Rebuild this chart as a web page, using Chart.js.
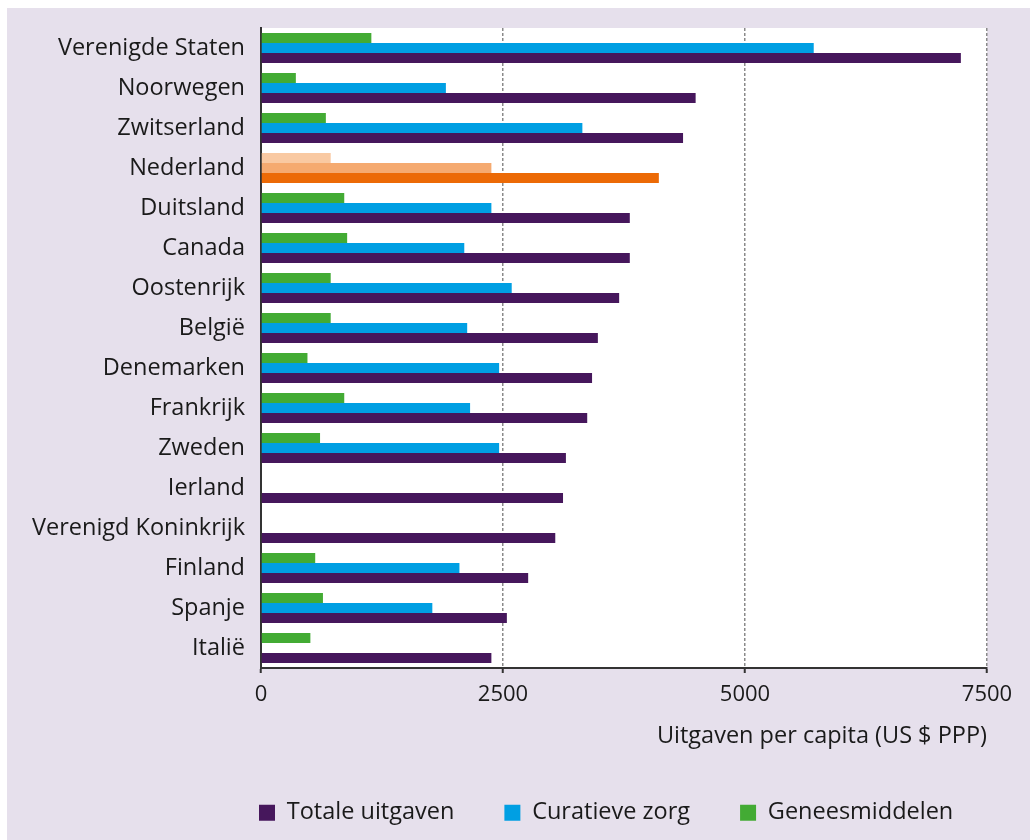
<!DOCTYPE html>
<html>
<head>
<meta charset="utf-8">
<script src="https://cdn.jsdelivr.net/npm/chart.js@4.4.1/dist/chart.umd.min.js"></script>
<style>
  html, body { margin: 0; padding: 0; background: #ffffff; }
  #wrap { position: absolute; left: 7px; top: 8px; width: 1023px; height: 832px; background: #e6e0ec; }
  canvas { display: block; }
</style>
</head>
<body>
<div id="wrap"><canvas id="c" width="1023" height="832"></canvas></div>
<script>
const categories = ['Verenigde Staten', 'Noorwegen', 'Zwitserland', 'Nederland', 'Duitsland', 'Canada', 'Oostenrijk', 'België', 'Denemarken', 'Frankrijk', 'Zweden', 'Ierland', 'Verenigd Koninkrijk', 'Finland', 'Spanje', 'Italië'];
const totaleUitgaven = [7230, 4490, 4360, 4110, 3810, 3810, 3700, 3480, 3420, 3370, 3150, 3120, 3040, 2760, 2540, 2380];
const curatieveZorg  = [5710, 1910, 3320, 2380, 2380, 2100, 2590, 2130, 2460, 2160, 2460, null, null, 2050, 1770, null];
const geneesmiddelen = [1140, 360, 670, 720, 860, 890, 720, 720, 480, 860, 610, null, null, 560, 640, 510];
const seriesNames = ['Totale uitgaven', 'Curatieve zorg', 'Geneesmiddelen'];
const xTicks = [0, 2500, 5000, 7500];
const highlight = 'Nederland';

const FONT = 'Open Sans';
const TEXT = '#1a1a1a';
const colorsFor = (base, hl) => categories.map(c => c === highlight ? hl : base);

const bgPlugin = {
  id: 'areaBg',
  beforeDraw(chart) {
    const { ctx, chartArea: a } = chart;
    ctx.save();
    ctx.fillStyle = '#ffffff';
    ctx.fillRect(a.left, a.top, a.right - a.left, a.bottom - a.top);
    ctx.restore();
  },
  afterLayout(chart) {
    const lg = chart.legend;
    if (!lg) return;
    const pad = lg.options.labels.padding;
    lg.left = 252 - pad;
    lg.right = 3000;
    lg.top = 743;
    lg.bottom = chart.height;
  }
};

new Chart(document.getElementById('c'), {
  type: 'bar',
  data: {
    labels: categories,
    datasets: [
      { label: seriesNames[2], data: geneesmiddelen, backgroundColor: colorsFor('#43ab34', '#f9c9a2') },
      { label: seriesNames[1], data: curatieveZorg, backgroundColor: colorsFor('#009fe3', '#f5aa70') },
      { label: seriesNames[0], data: totaleUitgaven, backgroundColor: colorsFor('#46175c', '#ec6a06') }
    ]
  },
  options: {
    indexAxis: 'y',
    responsive: false,
    animation: false,
    categoryPercentage: 0.75,
    barPercentage: 1.0,
    layout: { padding: { top: 20, right: 43, bottom: 8, left: 0 } },
    plugins: {
      tooltip: { enabled: false },
      legend: {
        position: 'bottom',
        align: 'start',
        reverse: true,
        maxHeight: 42,
        labels: {
          boxWidth: 16, boxHeight: 16, padding: 50,
          color: TEXT,
          font: { family: FONT, size: 23.5 }
        }
      }
    },
    scales: {
      x: {
        min: 0, max: 7500,
        afterBuildTicks: (axis) => { axis.ticks = xTicks.map(v => ({ value: v })); },
        afterFit: (axis) => { axis.height = 122; axis.paddingLeft = 0; axis.paddingRight = 0; },
        grid: {
          color: (ctx) => (ctx.tick && ctx.tick.value === 0) ? 'rgba(0,0,0,0)' : '#8a8a8a',
          lineWidth: 1.5,
          drawTicks: true,
          tickLength: 5,
          tickColor: '#333333',
          tickWidth: 2,
          tickBorderDash: []
        },
        border: { display: true, color: '#333333', width: 2, dash: [3, 2] },
        ticks: { color: TEXT, font: { family: FONT, size: 22 }, padding: 9, maxRotation: 0, callback: (v) => String(v) },
        title: {
          display: true,
          text: 'Uitgaven per capita (US $ PPP)',
          align: 'end',
          color: TEXT,
          font: { family: FONT, size: 23.5 },
          padding: { top: 0, bottom: 40 }
        }
      },
      y: {
        afterFit: (axis) => { axis.width = 254; axis.paddingTop = 0; axis.paddingBottom = 0; },
        grid: { display: false, drawTicks: false },
        border: { display: true, color: '#333333', width: 2 },
        ticks: { color: TEXT, font: { family: FONT, size: 23.5 }, padding: 16, autoSkip: false }
      }
    }
  },
  plugins: [bgPlugin]
});
</script>
</body>
</html>
